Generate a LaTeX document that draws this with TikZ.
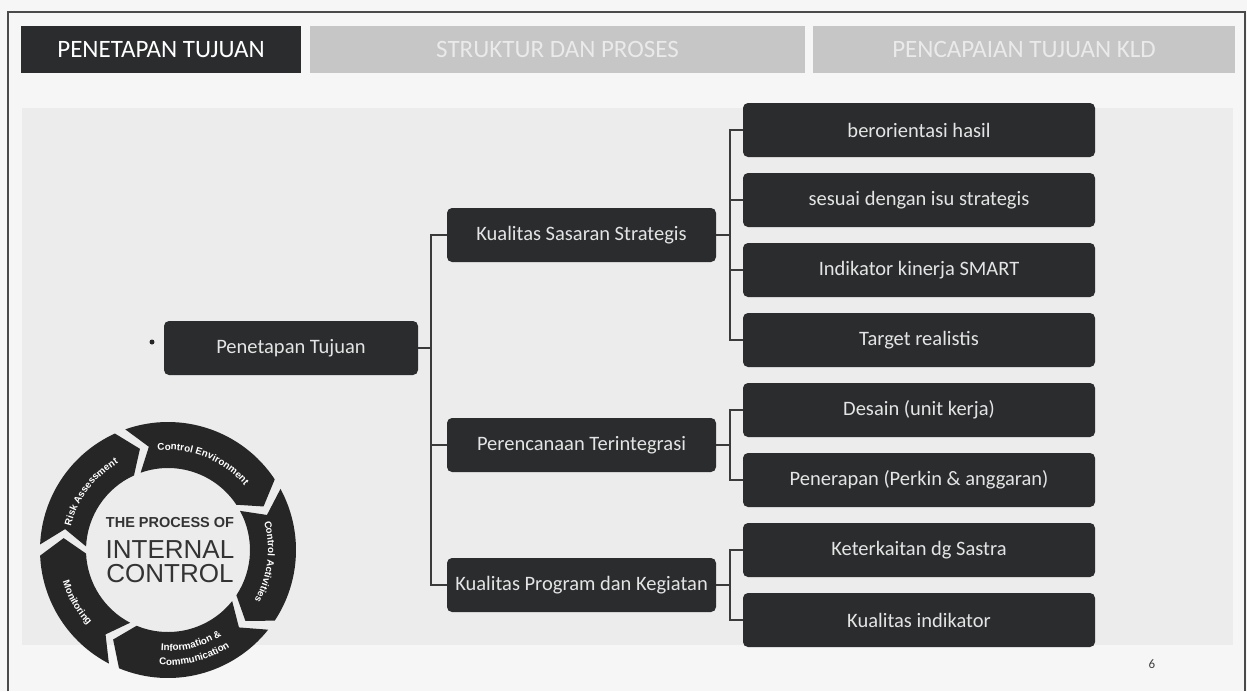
\documentclass[tikz,border=0pt]{standalone}
\usepackage{fontspec}
\setmainfont{Carlito}
\newfontfamily\arialf{Liberation Sans}
\usetikzlibrary{decorations.text}
\definecolor{pagebg}{HTML}{F6F6F6}
\definecolor{areabg}{HTML}{ECECEC}
\definecolor{boxc}{HTML}{2A2C2D}
\definecolor{boxtxt}{HTML}{E4E4E4}
\definecolor{tabgrey}{HTML}{C6C6C6}
\definecolor{tabtxt}{HTML}{EAEAEA}
\definecolor{linec}{HTML}{3A3A3A}
\definecolor{framec}{HTML}{4A4A4A}
\definecolor{ringc}{HTML}{262626}
\definecolor{ctext}{HTML}{333333}
\newcommand\ringfont{\arialf\bfseries\fontsize{9.8}{11}\selectfont}
\tikzset{
  tabdark/.style={fill=boxc, text=white, font=\fontsize{25}{28}\selectfont, minimum height=47pt, inner sep=0pt},
  tablight/.style={fill=tabgrey, text=tabtxt, font=\fontsize{25}{28}\selectfont, minimum height=47pt, inner sep=0pt},
  darkbox/.style={fill=boxc, text=boxtxt, rounded corners=5pt, font=\fontsize{20.5}{24}\selectfont, minimum height=54pt, inner sep=0pt},
  rbox/.style={darkbox, minimum width=352pt},
  mbox/.style={darkbox, minimum width=269pt},
  conn/.style={draw=linec, line width=1.2pt},
  ringtext/.style={decorate, decoration={text along path, text align=center, text color=white, text={#1}}}
}
\begin{document}
\begin{tikzpicture}[x=1pt,y=1pt]
\useasboundingbox (0,0) rectangle (1247,-691);
\fill[pagebg] (0,0) rectangle (1247,-691);
\fill[areabg] (22,-108) rectangle (1233,-645);
\draw[framec, line width=2pt] (8,-691) -- (8,-12) -- (1245,-12) -- (1245,-691);

% tabs
\node[tabdark, minimum width=280pt] (tab1) at (161,-49.5) {PENETAPAN TUJUAN};
\node[tablight, minimum width=495pt] (tab2) at (557.5,-49.5) {STRUKTUR DAN PROSES};
\node[tablight, minimum width=422pt] (tab3) at (1024,-49.5) {PENCAPAIAN TUJUAN KLD};

% tree
\node[darkbox, minimum width=254pt] (pen) at (291,-348) {Penetapan Tujuan};
\node[mbox] (kss) at (581.5,-235) {Kualitas Sasaran Strategis};
\node[mbox] (per) at (581.5,-445) {Perencanaan Terintegrasi};
\node[mbox] (kpk) at (581.5,-585) {Kualitas Program dan Kegiatan};

\node[rbox] (r1) at (919,-130) {berorientasi hasil};
\node[rbox] (r2) at (919,-200) {sesuai dengan isu strategis};
\node[rbox] (r3) at (919,-270) {Indikator kinerja SMART};
\node[rbox] (r4) at (919,-340) {Target realistis};
\node[rbox] (r5) at (919,-410) {Desain (unit kerja)};
\node[rbox] (r6) at (919,-480) {Penerapan (Perkin \& anggaran)};
\node[rbox] (r7) at (919,-550) {Keterkaitan dg Sastra};
\node[rbox] (r8) at (919,-620) {Kualitas indikator};

\coordinate (mbus) at (431,0);
\coordinate (rbus) at (730,0);
\draw[conn] (pen.east) -- (pen.east -| mbus);
\draw[conn] (kss.west) -- (kss.west -| mbus) |- (kpk.west);
\draw[conn] (per.west) -- (per.west -| mbus);

\draw[conn] (kss.east) -- (kss.east -| rbus);
\draw[conn] (r1.west) -- (r1.west -| rbus) |- (r4.west);
\draw[conn] (r2.west) -- (r2.west -| rbus);
\draw[conn] (r3.west) -- (r3.west -| rbus);

\draw[conn] (per.east) -- (per.east -| rbus);
\draw[conn] (r5.west) -- (r5.west -| rbus) |- (r6.west);

\draw[conn] (kpk.east) -- (kpk.east -| rbus);
\draw[conn] (r7.west) -- (r7.west -| rbus) |- (r8.west);

% stray dot
\fill[black!85] (152,-342) circle (2.5);

% page number
\node[font=\fontsize{13}{14}\selectfont, text=black!75] (pg) at (1152,-664) {6};

% internal control circle
\begin{scope}[shift={(168,-550)}]
  \foreach \s/\e in {109.5/33.5, 28.5/-33.5, -38.5/-112.5, -117.5/-177.5, 177.5/114.5}
    \fill[ringc] (\s:128) arc[start angle=\s, end angle=\e, radius=128]
      -- (\e-9:105) -- (\e:82) arc[start angle=\e, end angle=\s, radius=82]
      -- (\s-9:105) -- cycle;
  \path[ringtext={|\ringfont|Control Environment}] (109:100) arc[start angle=109, end angle=27, radius=100];
  \path[ringtext={|\ringfont|Control Activities}] (28:100) arc[start angle=28, end angle=-42, radius=100];
  \path[ringtext={|\ringfont|Information {\&}}] (-116:101) arc[start angle=-116, end angle=-36, radius=101];
  \path[ringtext={|\ringfont|Communication}] (-116:115) arc[start angle=-116, end angle=-36, radius=115];
  \path[ringtext={|\ringfont|Monitoring}] (-182:110) arc[start angle=-182, end angle=-118, radius=110];
  \path[ringtext={|\ringfont|Risk Assessment}] (179:100) arc[start angle=179, end angle=107, radius=100];
  \node[font=\arialf\bfseries\fontsize{14.5}{16}\selectfont, text=ctext] (cp1) at (2,28) {THE PROCESS OF};
  \node[font=\arialf\fontsize{26}{28}\selectfont, text=ctext] (cp2) at (2,0) {INTERNAL};
  \node[font=\arialf\fontsize{26}{28}\selectfont, text=ctext] (cp3) at (2,-24) {CONTROL};
\end{scope}
\end{tikzpicture}
\end{document}
